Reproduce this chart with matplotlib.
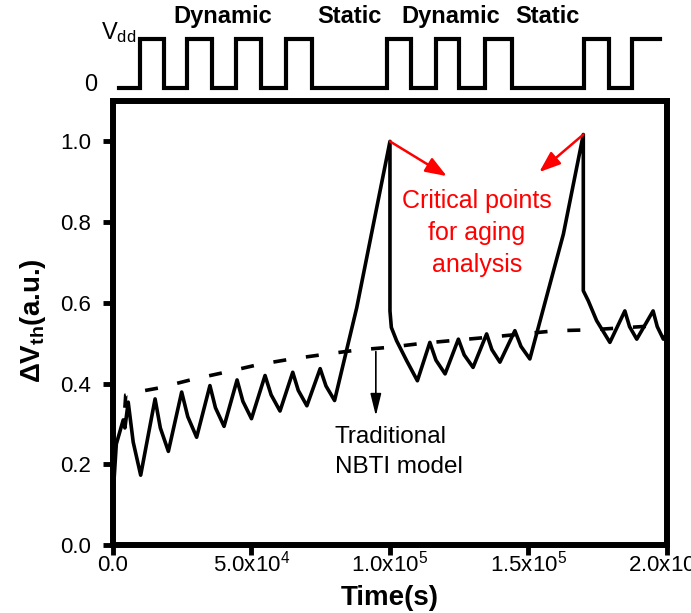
import numpy as np
import matplotlib
matplotlib.use('Agg')
import matplotlib.pyplot as plt

plt.rcParams['font.family'] = ['Liberation Sans', 'DejaVu Sans']
plt.rcParams['mathtext.fontset'] = 'custom'
plt.rcParams['mathtext.rm'] = 'Liberation Sans'
plt.rcParams['mathtext.it'] = 'Liberation Sans:italic'
plt.rcParams['mathtext.bf'] = 'Liberation Sans:bold'

# aging curve
curve_t = [0, 1.2e3, 3.7e3, 4.3e3, 5.5e3, 7.3e3, 10.0e3, 15.2e3, 17.1e3, 20.0e3,
           24.8e3, 27.0e3, 30.2e3, 35.0e3, 37.0e3, 40.1e3, 44.8e3, 46.9e3, 50.0e3, 54.9e3,
           57.1e3, 60.3e3, 64.9e3, 66.9e3, 70.0e3, 74.8e3, 76.9e3, 80.0e3, 88.0e3, 94.0e3,
           100.0e3, 100.0e3, 100.5e3, 102.4e3, 106.0e3, 109.9e3, 114.4e3, 116.6e3, 119.9e3, 124.7e3,
           126.8e3, 130.0e3, 134.9e3, 136.8e3, 139.7e3, 145.1e3, 147.3e3, 150.5e3, 162.6e3, 169.8e3,
           169.8e3, 171.6e3, 174.6e3, 179.4e3, 184.8e3, 186.5e3, 189.1e3, 195.0e3, 196.5e3, 198.7e3,
           200.0e3]
curve_v = [0.12, 0.25, 0.31, 0.29, 0.354, 0.255, 0.173, 0.362, 0.29, 0.232,
           0.379, 0.318, 0.267, 0.395, 0.34, 0.294, 0.409, 0.356, 0.313, 0.42,
           0.372, 0.332, 0.428, 0.383, 0.345, 0.437, 0.394, 0.358, 0.588, 0.794,
           1.0, 0.58, 0.539, 0.506, 0.457, 0.407, 0.502, 0.458, 0.424, 0.51,
           0.471, 0.44, 0.523, 0.484, 0.453, 0.531, 0.492, 0.461, 0.77, 1.017,
           0.63, 0.605, 0.556, 0.502, 0.58, 0.541, 0.51, 0.58, 0.541, 0.51,
           0.525]

# traditional NBTI model (dashed)
nbti_t = [4.3e3, 4.6e3, 7e3, 16.5e3, 28.5e3, 40.5e3, 52.5e3, 64.5e3, 76e3, 88e3,
          100e3, 112e3, 136e3, 160e3, 172e3, 200e3]
nbti_v = [0.34, 0.372, 0.377, 0.389, 0.41, 0.428, 0.447, 0.461, 0.472, 0.483,
          0.49, 0.5, 0.515, 0.531, 0.533, 0.545]

# supply waveform on top (edge times and level after each edge)
wave_t = [2.1e3, 9.9e3, 18.3e3, 26.7e3, 35.8e3, 44.3e3, 53.4e3, 62.5e3, 71.7e3, 99.1e3,
          107.5e3, 116.6e3, 125.1e3, 134.2e3, 144.0e3, 170.0e3, 179.1e3, 187.5e3, 197.4e3]
wave_level = [0, 1, 0, 1, 0, 1, 0, 1, 0, 1, 0, 1, 0, 1, 0, 1, 0, 1, 1]
phase_names = ['Dynamic', 'Static', 'Dynamic', 'Static']
phase_t = [39.7e3, 85.4e3, 121.9e3, 157.0e3]

xtick_vals = [0, 5e4, 1e5, 1.5e5, 2e5]
xtick_labels = ['0.0', '5.0x10$^4$', '1.0x10$^5$', '1.5x10$^5$', '2.0x10$^5$']
ytick_vals = [0.0, 0.2, 0.4, 0.6, 0.8, 1.0]
ytick_labels = ['0.0', '0.2', '0.4', '0.6', '0.8', '1.0']

fig = plt.figure(figsize=(6.91, 6.13), dpi=100)
ax = fig.add_axes([0.1635, 0.1109, 0.8017, 0.7243])

ax.plot(curve_t, curve_v, color='black', lw=2.6)
ax.plot(nbti_t, nbti_v, color='black', lw=2.6, dashes=(3.6, 5.5))

ax.set_xlim(0, 2e5)
ax.set_ylim(0, 1.1)
ax.set_xticks(xtick_vals)
ax.set_xticklabels(xtick_labels)
ax.set_yticks(ytick_vals)
ax.set_yticklabels(ytick_labels)
for s in ax.spines.values():
    s.set_linewidth(4.3)
ax.tick_params(direction='out', length=7.5, width=3.5, labelsize=16)
ax.tick_params(axis='y', pad=8)
ax.tick_params(axis='x', pad=11.5)
for lab in ax.get_xticklabels():
    lab.set_va('baseline')

ax.set_xlabel('Time(s)', fontsize=20, fontweight='bold')
ax.xaxis.set_label_coords(0.5, -0.09)
ax.set_ylabel('ΔV$_\\mathbf{th}$(a.u.)', fontsize=20, fontweight='bold')
ax.yaxis.set_label_coords(-0.117, 0.505)

# annotations
ax.annotate('', xy=(94.9e3, 0.313), xytext=(94.9e3, 0.486),
            arrowprops=dict(arrowstyle='-|>,head_width=0.22,head_length=0.9',
                            color='black', lw=1.2, mutation_scale=15))
ax.text(80.1e3, 0.231, 'Traditional\nNBTI model', fontsize=17.5, ha='left', va='center',
        linespacing=1.45)

ax.annotate('', xy=(120.5e3, 0.914), xytext=(100e3, 1.0),
            arrowprops=dict(arrowstyle='-|>,head_width=0.3,head_length=0.8',
                            color='red', lw=1.8, mutation_scale=16, shrinkA=0, shrinkB=0))
ax.annotate('', xy=(153.9e3, 0.924), xytext=(169.8e3, 1.017),
            arrowprops=dict(arrowstyle='-|>,head_width=0.3,head_length=0.8',
                            color='red', lw=1.8, mutation_scale=16, shrinkA=0, shrinkB=0))
ax.text(131.4e3, 0.773, 'Critical points\nfor aging\nanalysis', fontsize=18, color='red',
        ha='center', va='center', linespacing=1.4)

# waveform axes above
wax = fig.add_axes([0.1635, 0.8418, 0.8017, 0.1175])
wax.plot(wave_t, wave_level, color='black', lw=3, drawstyle='steps-post',
         solid_joinstyle='miter')
wax.set_xlim(0, 2e5)
wax.set_ylim(-0.184, 1.284)
wax.axis('off')
for name, t in zip(phase_names, phase_t):
    wax.text(t, 1.447, name, fontsize=17, fontweight='bold', ha='center', va='center')
wax.text(8.3e3, 1.12, 'V$_\\mathrm{dd}$', fontsize=17, ha='right', va='center')
wax.text(-5.5e3, 0.05, '0', fontsize=17, ha='right', va='center')

fig.savefig('out.png', dpi=100)
